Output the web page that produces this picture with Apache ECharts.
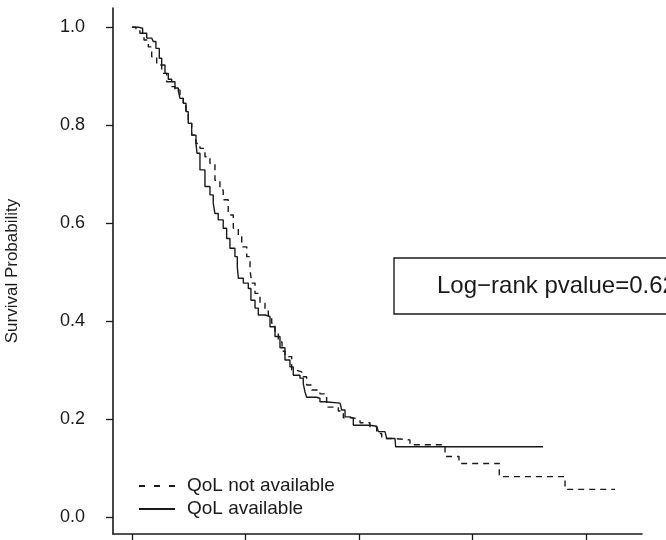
<!DOCTYPE html>
<html>
<head>
<meta charset="utf-8">
<script src="https://cdn.jsdelivr.net/npm/echarts@6/dist/echarts.min.js"></script>
<style>
html,body{margin:0;padding:0;background:#fff;}
#chart{width:666px;height:540px;}
</style>
</head>
<body>
<div id="chart"></div>
<script>
// Time axis ticks (labels fall outside the picture)
const timeTicks = [0, 10, 20, 30, 40];
const survTicks = [0, 0.2, 0.4, 0.6, 0.8, 1.0];
const seriesNames = ['QoL not available', 'QoL available'];
const pvalueText = 'Log\u2212rank pvalue=0.62';

// Kaplan-Meier estimates [time, survival]
const qolAvailable = [
  [0,1.0],[0.64,0.998],[0.94,0.988],[1.30,0.978],[1.74,0.976],[1.88,0.971],[2.11,0.957],
  [2.41,0.937],[2.62,0.923],[2.91,0.906],[3.20,0.894],[3.50,0.889],[3.79,0.876],[4.08,0.871],
  [4.23,0.855],[4.52,0.845],[4.76,0.828],[4.96,0.804],[5.26,0.780],[5.64,0.763],[5.73,0.743],
  [5.99,0.709],[6.43,0.675],[6.87,0.658],[7.16,0.641],[7.31,0.620],[7.60,0.607],[8.04,0.590],
  [8.34,0.569],[8.63,0.549],[9.07,0.532],[9.28,0.511],[9.37,0.488],[9.81,0.478],[10.25,0.467],
  [10.48,0.443],[10.84,0.427],[11.13,0.413],[11.72,0.410],[12.16,0.389],[12.60,0.369],
  [13.04,0.346],[13.48,0.321],[13.92,0.307],[14.21,0.290],[14.80,0.284],[15.09,0.273],
  [15.24,0.256],[15.39,0.245],[16.27,0.243],[16.56,0.236],[17.00,0.233],[18.33,0.231],
  [18.48,0.219],[18.77,0.205],[19.21,0.202],[19.50,0.188],[20.97,0.186],[21.56,0.185],
  [21.70,0.175],[22.29,0.173],[22.44,0.161],[23.17,0.159],[23.23,0.144],[36.21,0.144]
];
const qolNotAvailable = [
  [0,1.0],[0.35,0.994],[0.70,0.988],[1.06,0.974],[1.44,0.960],[1.74,0.940],[2.18,0.923],
  [2.62,0.906],[3.06,0.889],[3.50,0.879],[3.79,0.872],[4.23,0.855],[4.52,0.845],[4.76,0.828],
  [4.96,0.804],[5.26,0.780],[5.64,0.763],[5.99,0.753],[6.43,0.736],[6.87,0.722],[7.31,0.688],
  [7.75,0.668],[8.04,0.648],[8.48,0.617],[8.93,0.590],[9.37,0.573],[9.67,0.552],[10.11,0.532],
  [10.40,0.505],[10.55,0.478],[10.84,0.457],[11.28,0.437],[11.72,0.425],[12.01,0.409],
  [12.31,0.396],[12.60,0.379],[12.89,0.358],[13.22,0.339],[13.48,0.328],[14.07,0.301],
  [14.36,0.297],[14.95,0.287],[15.39,0.270],[15.83,0.260],[16.56,0.252],[17.15,0.225],
  [18.18,0.217],[18.62,0.203],[19.50,0.199],[20.09,0.193],[20.97,0.185],[21.56,0.171],
  [22.00,0.161],[23.02,0.158],[24.49,0.148],[27.58,0.124],[28.81,0.110],[32.36,0.083],
  [38.15,0.057],[42.56,0.057]
];

const FONT = '"Liberation Sans", Arial, Helvetica, sans-serif';
const INK = '#1a1a1a';

const chart = echarts.init(document.getElementById('chart'), null, {renderer: 'canvas'});
chart.setOption({
  animation: false,
  backgroundColor: '#ffffff',
  textStyle: {fontFamily: FONT, color: INK},
  grid: {left: 113, top: 8, right: 24, bottom: 6, containLabel: false, outerBoundsMode: 'none'},
  xAxis: {
    type: 'value',
    min: -1.67, max: 44.93,
    axisLine: {show: true, onZero: false, lineStyle: {color: INK, width: 1.6}},
    axisTick: {show: true, length: 7, inside: false, customValues: timeTicks, lineStyle: {color: INK, width: 1.3}},
    axisLabel: {show: false},
    splitLine: {show: false}
  },
  yAxis: {
    type: 'value',
    min: -0.034, max: 1.0394,
    name: 'Survival Probability',
    nameLocation: 'middle',
    nameGap: 92,
    nameRotate: 90,
    nameTextStyle: {fontFamily: FONT, fontSize: 17, color: INK},
    axisLine: {show: true, onZero: false, lineStyle: {color: INK, width: 1.6}},
    axisTick: {show: true, length: 7, inside: false, customValues: survTicks, lineStyle: {color: INK, width: 1.3}},
    axisLabel: {
      show: true, customValues: survTicks, margin: 28,
      fontFamily: FONT, fontSize: 18, color: INK,
      formatter: v => v.toFixed(1)
    },
    splitLine: {show: false}
  },
  legend: {
    show: true,
    data: [
      {name: seriesNames[0], lineStyle: {type: [6, 9]}},
      {name: seriesNames[1]}
    ],
    orient: 'vertical',
    left: 133, top: 471,
    itemWidth: 36, itemHeight: 14, itemGap: 3,
    itemStyle: {color: 'rgba(0,0,0,0)', borderWidth: 0, opacity: 0},
    textStyle: {fontFamily: FONT, fontSize: 19, color: INK, padding: [0, 0, 0, 7], lineHeight: 20},
    selectedMode: false
  },
  series: [
    {
      name: seriesNames[0], type: 'line', step: 'end', data: qolNotAvailable,
      symbol: 'none', showSymbol: false,
      lineStyle: {color: INK, width: 1.4, type: [6, 5]},
      itemStyle: {color: INK}
    },
    {
      name: seriesNames[1], type: 'line', step: 'end', data: qolAvailable,
      symbol: 'none', showSymbol: false,
      lineStyle: {color: INK, width: 1.4, type: 'solid'},
      itemStyle: {color: INK}
    }
  ],
  graphic: [
    {type: 'rect', shape: {x: 394, y: 258, width: 320, height: 56},
     style: {fill: '#fff', stroke: INK, lineWidth: 1.4}, z: 10},
    {type: 'text', x: 437, y: 286, z: 11,
     style: {text: pvalueText, fontFamily: FONT, fontSize: 24, fill: INK, verticalAlign: 'middle', align: 'left'}}
  ]
});
</script>
</body>
</html>
